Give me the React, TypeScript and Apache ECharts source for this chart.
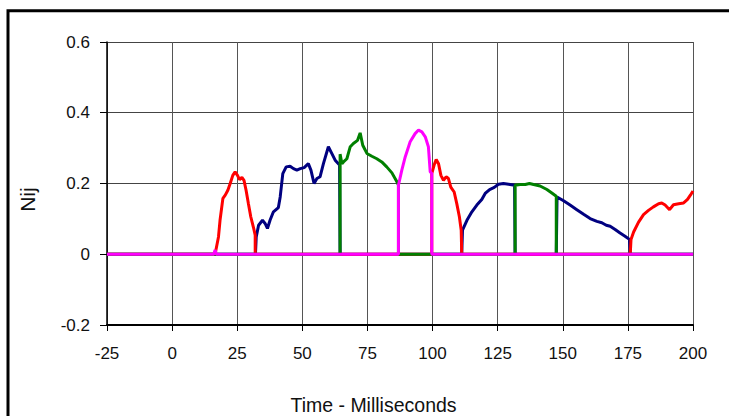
import React, { useEffect, useRef } from "react";
import * as echarts from "echarts";

// Time (ms) and Nij value pairs, one array per colour segment series
const navySeries: [number, number][] = [
  [-25, 0], [32, 0], [32.3, 0.049], [33.2, 0.082], [34.7, 0.096], [35.7, 0.087], [36.6, 0.073],
  [37.6, 0.096], [38.9, 0.12], [40.8, 0.132], [41.5, 0.162], [42.5, 0.228], [43.8, 0.247],
  [45.3, 0.249], [46.6, 0.242], [47.9, 0.238], [49.2, 0.242], [50.7, 0.245], [52.3, 0.256],
  [53.3, 0.238], [54.5, 0.2], [55.6, 0.214], [56.8, 0.219], [58.1, 0.256], [60.0, 0.304],
  [61.3, 0.285], [62.6, 0.266], [64.3, 0.252], [64.5, 0],
  [111.2, 0], [111.5, 0.068], [113.2, 0.096], [115.1, 0.12], [117.0, 0.139], [118.9, 0.155],
  [120.2, 0.172], [121.9, 0.183], [123.7, 0.189], [125.3, 0.198], [127.2, 0.2], [129.2, 0.198],
  [131.5, 0.195], [131.7, 0],
  [147.5, 0], [147.8, 0.162], [150.3, 0.151], [152.8, 0.139], [155.4, 0.126], [158.0, 0.113],
  [160.5, 0.101], [163.1, 0.093], [165.0, 0.089], [166.7, 0.082], [168.2, 0.079], [170.1, 0.07],
  [172.0, 0.06], [173.9, 0.051], [175.6, 0.042], [175.9, 0], [200, 0],
];

const redSeries: [number, number][] = [
  [-25, 0], [16.5, 0], [17.8, 0.049], [18.4, 0.096], [19.5, 0.158], [20.4, 0.167], [21.4, 0.181],
  [22.3, 0.2], [23.3, 0.223], [24.2, 0.233], [25.1, 0.223], [25.9, 0.211], [26.8, 0.217],
  [27.6, 0.209], [28.4, 0.181], [29.3, 0.143], [30.2, 0.106], [31.2, 0.077], [31.9, 0.054], [31.9, 0],
  [99.7, 0], [99.7, 0.228], [100.6, 0.252], [101.4, 0.268], [102.3, 0.256], [103.2, 0.223],
  [104.2, 0.209], [105.2, 0.219], [106.1, 0.214], [107.0, 0.19], [108.3, 0.176], [109.3, 0.143],
  [110.3, 0.106], [111.0, 0.068], [111.2, 0],
  [175.9, 0], [176.2, 0.042], [177.2, 0.063], [179.1, 0.091], [181.0, 0.112], [182.9, 0.124],
  [184.8, 0.134], [186.8, 0.143], [188.0, 0.145], [189.3, 0.139], [191.0, 0.126], [192.5, 0.14],
  [194.5, 0.143], [196.4, 0.145], [197.9, 0.155], [199.0, 0.167], [200, 0.179],
];

const greenSeries: [number, number][] = [
  [-25, 0], [64.5, 0], [64.5, 0.283], [65.2, 0.256], [65.8, 0.261], [67.1, 0.27], [68.4, 0.304],
  [69.6, 0.313], [71.2, 0.322], [72.2, 0.343], [73.2, 0.308], [74.8, 0.285], [76.7, 0.277],
  [78.6, 0.27], [80.5, 0.261], [82.4, 0.247], [84.4, 0.23], [86.3, 0.205], [86.9, 0.195], [86.9, 0],
  [131.7, 0], [131.7, 0.195], [133.6, 0.197], [135.6, 0.197], [137.2, 0.2], [138.8, 0.197],
  [141.3, 0.193], [143.9, 0.183], [145.8, 0.173], [147.5, 0.164], [147.5, 0], [200, 0],
];

const magentaSeries: [number, number][] = [
  [-25, 0], [16, 0], [16.5, 0.012], [17, 0], [86.9, 0], [86.9, 0.195], [88.2, 0.238],
  [89.5, 0.275], [91.4, 0.318], [93.3, 0.341], [94.6, 0.351], [95.9, 0.346], [97.2, 0.332],
  [98.4, 0.304], [99.1, 0.233], [99.7, 0.228], [99.7, 0], [200, 0],
];

const xTitle = "Time - Milliseconds";
const yTitle = "Nij";

const FONT = "'Liberation Sans', Arial, sans-serif";

export default function App() {
  const ref = useRef<HTMLDivElement>(null);
  useEffect(() => {
    if (!ref.current) return;
    const chart = echarts.init(ref.current, undefined, { renderer: "svg" });
    const line = (name: string, data: [number, number][], color: string) => ({
      name,
      type: "line",
      data,
      showSymbol: false,
      symbol: "none",
      lineStyle: { color, width: 3 },
      itemStyle: { color },
      silent: true,
    });
    chart.setOption({
      animation: false,
      backgroundColor: "#fff",
      textStyle: { fontFamily: FONT },
      grid: { left: 107, top: 42, right: 36, bottom: 91, containLabel: false },
      xAxis: {
        type: "value",
        min: -25,
        max: 200,
        interval: 25,
        axisLine: { show: true, onZero: false, lineStyle: { color: "#000", width: 2 } },
        axisTick: { show: true, inside: false, length: 6, lineStyle: { color: "#000", width: 1 } },
        splitLine: { show: true, lineStyle: { color: "#555", width: 1 } },
        axisLabel: { fontSize: 17, color: "#111", margin: 20, fontFamily: FONT },
      },
      yAxis: {
        type: "value",
        min: -0.2,
        max: 0.6,
        interval: 0.2,
        axisLine: { show: true, onZero: false, lineStyle: { color: "#000", width: 1.5 } },
        axisTick: { show: true, inside: false, length: 7, lineStyle: { color: "#000", width: 1 } },
        splitLine: { show: true, lineStyle: { color: "#444", width: 1 } },
        axisLabel: {
          fontSize: 17,
          color: "#111",
          margin: 17,
          fontFamily: FONT,
          formatter: (v: number) => String(Math.round(v * 10) / 10),
        },
      },
      graphic: [
        {
          type: "rect",
          shape: { x: 8, y: 10.7, width: 1000, height: 1000 },
          style: { fill: "none", stroke: "#000", lineWidth: 3 },
          silent: true,
          z: 0,
        },
        {
          type: "text",
          x: 373.5,
          y: 405,
          style: {
            text: xTitle,
            fontSize: 19.5,
            fontFamily: FONT,
            fill: "#111",
            align: "center",
            verticalAlign: "middle",
          },
        },
        {
          type: "text",
          x: 27.5,
          y: 199.6,
          rotation: Math.PI / 2,
          style: {
            text: yTitle,
            fontSize: 21,
            fontFamily: FONT,
            fill: "#111",
            align: "center",
            verticalAlign: "middle",
          },
        },
      ],
      series: [
        line("Navy", navySeries, "#000080"),
        line("Red", redSeries, "#FF0000"),
        line("Green", greenSeries, "#008000"),
        line("Magenta", magentaSeries, "#FF00FF"),
      ],
    });
    return () => chart.dispose();
  }, []);
  return (
    <div
      ref={ref}
      style={{ position: "fixed", left: 0, top: 0, width: 729, height: 416 }}
    />
  );
}
